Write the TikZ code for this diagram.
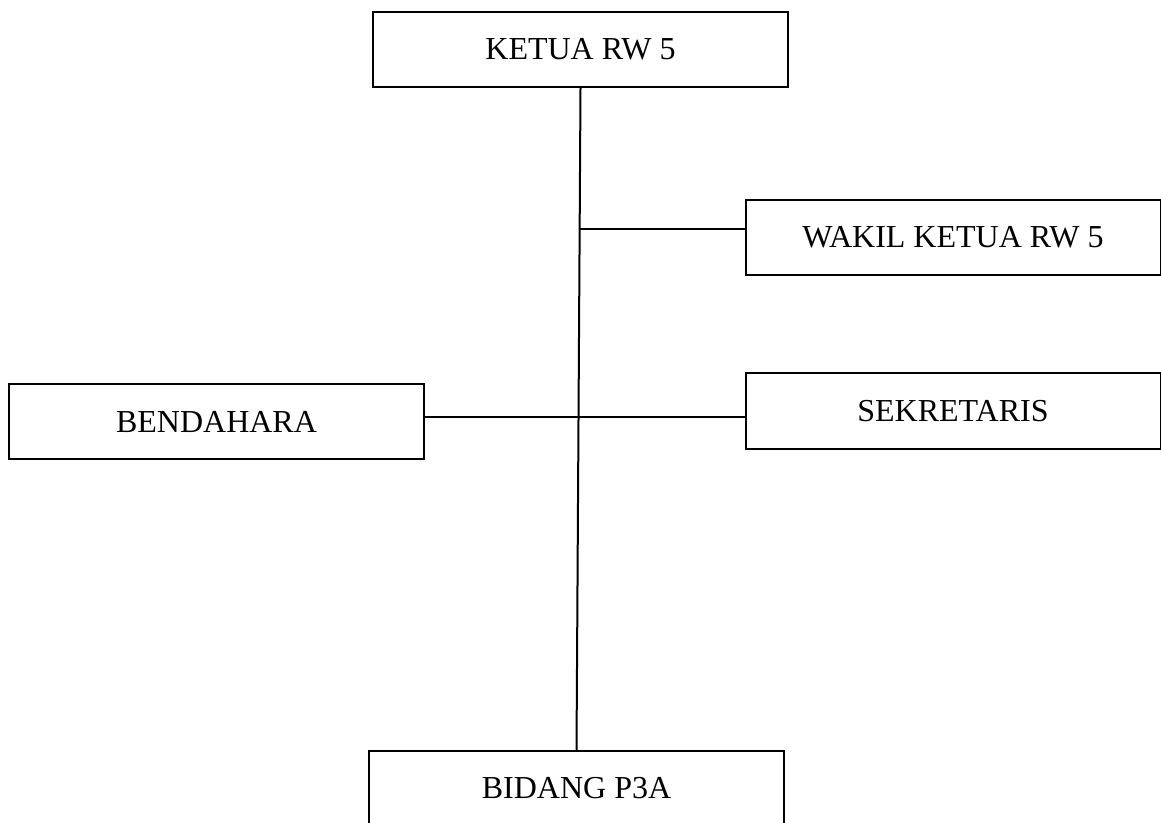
\documentclass[tikz,border=0pt]{standalone}
\usepackage{fontspec}
\setmainfont{Liberation Serif}
\usepackage{tikz}
\usetikzlibrary{positioning,calc}

\begin{document}
\begin{tikzpicture}[x=0.5pt, y=-0.5pt, line width=1pt,
  jabatan/.style={draw, minimum width=207.5pt, minimum height=37.5pt, inner sep=0pt, font=\fontsize{16}{19}\selectfont}]
\useasboundingbox (0,0) rectangle (1161,823);

% Boxes
\node[jabatan] (ketua) at (580.5,49.5) {KETUA RW 5};
\node[jabatan] (wakil) at (953,237.5) {WAKIL KETUA RW 5};
\node[jabatan] (bendahara) at (216.5,421.5) {BENDAHARA};
\node[jabatan] (sekretaris) at (953,411) {SEKRETARIS};
\node[jabatan] (bidang) at (576.5,788.5) {BIDANG P3A};

% Main line
\draw (ketua.south) -- (bidang.north);
\coordinate (cab1) at ($(ketua.south)!0.2123!(bidang.north)$);
\coordinate (cab2) at ($(ketua.south)!0.497!(bidang.north)$);

% Branches
\draw (cab1) -- (cab1 -| wakil.west);
\draw (bendahara.east |- cab2) -- (cab2 -| sekretaris.west);
\end{tikzpicture}
\end{document}
